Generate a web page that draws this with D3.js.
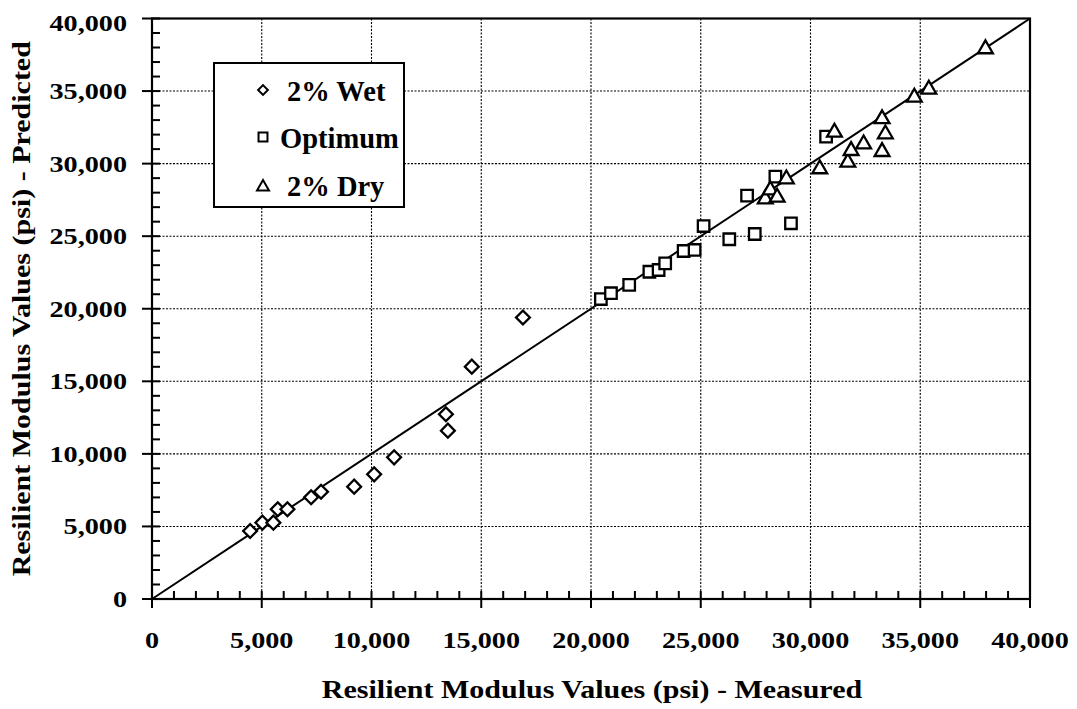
<!DOCTYPE html>
<html>
<head>
<meta charset="utf-8">
<script src="https://cdn.jsdelivr.net/npm/d3@7"></script>
<style>
  html, body { margin: 0; padding: 0; background: #fff; }
  svg { display: block; }
</style>
</head>
<body>
<svg id="chart" width="1077" height="709"></svg>
<script>
// ---- data (psi) ----
const wetMeasured  = [4470, 5030, 5530, 5730, 6170, 7250, 7700, 9210, 10120, 11030, 13390, 13480, 14570, 16900];
const wetPredicted = [4690, 5260, 5260, 6180, 6180, 7010, 7390, 7740, 8590, 9760, 12730, 11600, 16010, 19400];

const optMeasured  = [20450, 20910, 21740, 22660, 23080, 23380, 24220, 24720, 25130, 26300, 27460, 27110, 29110, 28400, 30710];
const optPredicted = [20670, 21070, 21640, 22550, 22670, 23130, 23980, 24050, 25700, 24790, 25150, 27790, 25890, 29100, 31860];

const dryMeasured  = [27940, 28170, 28480, 28900, 30420, 31090, 31700, 31850, 32420, 33260, 33410, 33260, 34730, 35390, 37970];
const dryPredicted = [27560, 28180, 27680, 28940, 29630, 32160, 30090, 30890, 31350, 33080, 32040, 30820, 34570, 35120, 37900];

const tickValues = [0, 5000, 10000, 15000, 20000, 25000, 30000, 35000, 40000];
const legendLabels = ["2% Wet", "Optimum", "2% Dry"];
const xTitle = "Resilient Modulus Values (psi) - Measured";
const yTitle = "Resilient Modulus Values (psi) - Predicted";

// ---- layout ----
const FONT = "Liberation Serif";
const svg = d3.select("#chart");
const L = 152, R = 1030, T = 18.5, B = 599;
const x = d3.scaleLinear().domain([0, 40000]).range([L, R]);
const y = d3.scaleLinear().domain([0, 40000]).range([B, T]);
const fmt = d3.format(",");
const SX = 1.2; // horizontal stretch of axis text

function txt(g) {
  return g.append("text").attr("font-family", FONT).attr("font-weight", "bold").attr("fill", "#000");
}

// gridlines
const grid = svg.append("g");
tickValues.slice(1, -1).forEach(v => {
  grid.append("line").attr("x1", x(v)).attr("x2", x(v)).attr("y1", T).attr("y2", B)
    .attr("stroke", "#000").attr("stroke-width", 1.1).attr("stroke-dasharray", "2,1.5");
  grid.append("line").attr("x1", L).attr("x2", R).attr("y1", y(v)).attr("y2", y(v))
    .attr("stroke", "#000").attr("stroke-width", 1.1).attr("stroke-dasharray", "2,1.5");
});

// frame
svg.append("rect").attr("x", L).attr("y", T).attr("width", R - L).attr("height", B - T)
  .attr("fill", "none").attr("stroke", "#000").attr("stroke-width", 2.2);

// minor & major ticks
const minor = d3.range(0, 40001, 1000);
const tk = svg.append("g").attr("stroke", "#000").attr("stroke-width", 2);
minor.forEach(v => {
  const major = v % 5000 === 0;
  tk.append("line").attr("x1", x(v)).attr("x2", x(v)).attr("y1", B - 8).attr("y2", major ? B + 9 : B);
  tk.append("line").attr("y1", y(v)).attr("y2", y(v)).attr("x1", L + 8).attr("x2", major ? L - 10 : L);
});

// tick labels
tickValues.forEach(v => {
  txt(svg).attr("transform", `translate(${x(v)},${648}) scale(${SX},1)`)
    .attr("text-anchor", "middle").attr("font-size", 23.5).text(fmt(v));
  txt(svg).attr("transform", `translate(127,${Math.max(y(v), 23) + 8}) scale(${SX},1)`)
    .attr("text-anchor", "end").attr("font-size", 23.5).text(fmt(v));
});

// axis titles
txt(svg).attr("transform", `translate(${(L + R) / 2 + 1},${698}) scale(${SX},1)`)
  .attr("text-anchor", "middle").attr("font-size", 25).text(xTitle);
txt(svg).attr("transform", `translate(30,${(T + B) / 2}) rotate(-90) scale(${SX},1)`)
  .attr("text-anchor", "middle").attr("font-size", 25).text(yTitle);

// 1:1 line
svg.append("line").attr("x1", x(0)).attr("y1", y(0)).attr("x2", x(40000)).attr("y2", y(40000))
  .attr("stroke", "#000").attr("stroke-width", 2);

// markers
const diamond = d3.symbol().type(d3.symbolSquare).size(96);
const square = d3.symbol().type(d3.symbolSquare).size(132);
const triangle = d3.symbol().type(d3.symbolTriangle).size(95);

function drawSeries(xs, ys, gen, rot) {
  svg.append("g").selectAll("path").data(xs.map((v, i) => [v, ys[i]])).join("path")
    .attr("d", gen)
    .attr("transform", d => `translate(${x(d[0])},${y(d[1])})${rot ? " rotate(45)" : ""}`)
    .attr("fill", "#fff").attr("stroke", "#000").attr("stroke-width", 2.3);
}
drawSeries(wetMeasured, wetPredicted, diamond, true);
drawSeries(optMeasured, optPredicted, square, false);
drawSeries(dryMeasured, dryPredicted, triangle, false);

// legend
const lg = svg.append("g");
lg.append("rect").attr("x", 214).attr("y", 63).attr("width", 190).attr("height", 144)
  .attr("fill", "#fff").attr("stroke", "#000").attr("stroke-width", 2);
const legGens = [[d3.symbol().type(d3.symbolSquare).size(48), true],
                 [d3.symbol().type(d3.symbolSquare).size(80), false],
                 [d3.symbol().type(d3.symbolTriangle).size(62), false]];
const legY = [90, 137, 187];
const legTextX = [287, 280, 287];
const legBase = [101, 148, 196];
legendLabels.forEach((lab, i) => {
  lg.append("path").attr("d", legGens[i][0])
    .attr("transform", `translate(263,${legY[i]})${legGens[i][1] ? " rotate(45)" : ""}`)
    .attr("fill", "#fff").attr("stroke", "#000").attr("stroke-width", 2);
  txt(lg).attr("x", legTextX[i]).attr("y", legBase[i]).attr("font-size", 28.5).text(lab);
});
</script>
</body>
</html>
